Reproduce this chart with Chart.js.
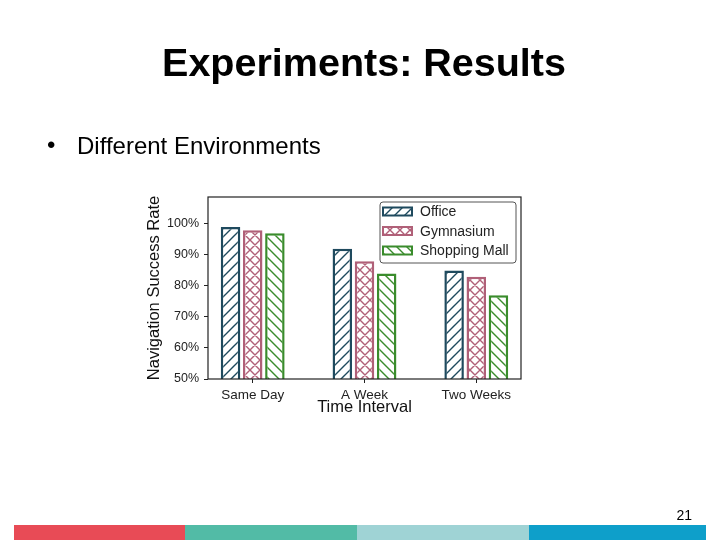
<!DOCTYPE html>
<html>
<head>
<meta charset="utf-8">
<title>Experiments: Results</title>
<script src="https://cdn.jsdelivr.net/npm/chart.js@4.4.0/dist/chart.umd.min.js"></script>
<style>
    html, body { margin: 0; padding: 0; background: #fff; }
    #slide { position: relative; width: 720px; height: 540px; overflow: hidden; font-family: "Liberation Sans", Arial, sans-serif; color: #000; }
    #chart { position: absolute; left: 0; top: 0; }
    .slide-title { position: absolute; left: 8px; top: 43px; width: 712px; text-align: center; font-size: 39.5px; line-height: 39.5px; font-weight: bold; }
    .bullet { position: absolute; left: 47px; top: 133px; font-size: 24px; line-height: 24px; }
    .bullet-text { position: absolute; left: 77px; top: 134px; font-size: 24px; line-height: 24px; white-space: nowrap; }
    .page-num { position: absolute; right: 28px; top: 508px; font-size: 14px; line-height: 14px; }
    .strip { position: absolute; top: 525px; height: 15px; }
</style>
</head>
<body>
<div id="slide">
    <canvas id="chart" width="720" height="540"></canvas>
    <div class="slide-title">Experiments: Results</div>
    <div class="bullet">•</div>
    <div class="bullet-text">Different Environments</div>
    <div class="page-num">21</div>
    <div class="strip" style="left:14px;width:171px;background:#e84b56;"></div>
    <div class="strip" style="left:185px;width:172px;background:#52bba6;"></div>
    <div class="strip" style="left:357px;width:172px;background:#9fd3d5;"></div>
    <div class="strip" style="left:529px;width:177px;background:#0e9fca;"></div>
</div>
<script>
// chart data
const categories = ['Same Day', 'A Week', 'Two Weeks'];
const seriesNames = ['Office', 'Gymnasium', 'Shopping Mall'];
const officeRates = [99, 92, 85];
const gymnasiumRates = [98, 88, 83];
const mallRates = [97, 84, 77];
const yTickValues = [50, 60, 70, 80, 90, 100];

const FONT = '"Liberation Sans", Arial, sans-serif';
const colors = ['#1f4a5e', '#b06078', '#3a8c2c'];
const hatches = ['/', 'x', '\\'];

// small tile with hatch lines, used as bar fill
function makeHatch(color, kind) {
    const n = 10;
    const c = document.createElement('canvas');
    c.width = n; c.height = n;
    const g = c.getContext('2d');
    g.fillStyle = '#fff';
    g.fillRect(0, 0, n, n);
    g.strokeStyle = color;
    g.lineWidth = 1.4;
    g.beginPath();
    if (kind === '/' || kind === 'x') {
        g.moveTo(-2, n + 2); g.lineTo(n + 2, -2);
        g.moveTo(-2, 2); g.lineTo(2, -2);
        g.moveTo(n - 2, n + 2); g.lineTo(n + 2, n - 2);
    }
    if (kind === '\\' || kind === 'x') {
        g.moveTo(-2, -2); g.lineTo(n + 2, n + 2);
        g.moveTo(n - 2, -2); g.lineTo(n + 2, 2);
        g.moveTo(-2, n - 2); g.lineTo(2, n + 2);
    }
    g.stroke();
    return g.createPattern(c, 'repeat');
}

function toPoints(values) {
    return values.map((v, i) => ({ x: i, y: v }));
}

const seriesValues = [officeRates, gymnasiumRates, mallRates];
const datasets = seriesNames.map((name, i) => ({
    label: name,
    data: toPoints(seriesValues[i]),
    backgroundColor: makeHatch(colors[i], hatches[i]),
    borderColor: colors[i],
    borderWidth: 2.5,
    borderSkipped: false
}));

// black frame round the plot area (matplotlib style)
const framePlugin = {
    id: 'frame',
    afterDatasetsDraw(chart) {
        const { ctx, chartArea: a } = chart;
        ctx.save();
        ctx.strokeStyle = '#222';
        ctx.lineWidth = 1.2;
        ctx.strokeRect(a.left, a.top, a.right - a.left, a.bottom - a.top);
        ctx.restore();
    }
};

// legend box in the upper right corner of the plot
const insideLegend = {
    id: 'insideLegend',
    afterDraw(chart) {
        const { ctx, chartArea: a } = chart;
        const w = 136, h = 61;
        const left = a.right - 5 - w, top = a.top + 5;
        ctx.save();
        ctx.beginPath();
        ctx.roundRect(left, top, w, h, 3);
        ctx.fillStyle = '#fff';
        ctx.fill();
        ctx.strokeStyle = '#555';
        ctx.lineWidth = 1;
        ctx.stroke();
        chart.data.datasets.forEach((ds, i) => {
            const cy = top + 9.5 + i * 19.5;
            ctx.fillStyle = ds.backgroundColor;
            ctx.fillRect(left + 3, cy - 4, 29, 8);
            ctx.strokeStyle = ds.borderColor;
            ctx.lineWidth = 2;
            ctx.strokeRect(left + 3, cy - 4, 29, 8);
            ctx.fillStyle = '#222';
            ctx.font = '14px ' + FONT;
            ctx.textBaseline = 'middle';
            ctx.textAlign = 'left';
            ctx.fillText(ds.label, left + 40, cy + 1);
        });
        ctx.restore();
    }
};

const ctx = document.getElementById('chart').getContext('2d');
new Chart(ctx, {
    type: 'bar',
    data: { datasets: datasets },
    options: {
        responsive: false,
        animation: false,
        devicePixelRatio: 1,
        categoryPercentage: 0.595,
        barPercentage: 0.88,
        layout: { padding: { left: 140, right: 199, top: 197, bottom: 123 } },
        plugins: {
            legend: { display: false },
            tooltip: { enabled: false }
        },
        scales: {
            x: {
                type: 'linear',
                min: -0.4,
                max: 2.4,
                offset: false,
                afterBuildTicks: s => { s.ticks = categories.map((c, i) => ({ value: i })); },
                afterFit: s => { s.height = 38; },
                grid: { display: true, offset: false, drawOnChartArea: false, drawTicks: true, tickLength: 4, color: '#222' },
                border: { display: false },
                ticks: {
                    callback: v => categories[v],
                    color: '#222',
                    padding: 4,
                    maxRotation: 0,
                    font: { family: FONT, size: 13.5 }
                },
                title: {
                    display: true,
                    text: 'Time Interval',
                    color: '#111',
                    padding: 0,
                    font: { family: FONT, size: 16.5 }
                }
            },
            y: {
                min: 50,
                max: 108.7,
                afterBuildTicks: s => { s.ticks = yTickValues.map(v => ({ value: v })); },
                afterFit: s => { s.width = 68; },
                grid: { display: true, drawOnChartArea: false, drawTicks: true, tickLength: 4, color: '#222' },
                border: { display: false },
                ticks: {
                    callback: v => v + '%',
                    color: '#222',
                    padding: 5,
                    font: { family: FONT, size: 12.5 }
                },
                title: {
                    display: true,
                    text: 'Navigation Success Rate',
                    color: '#111',
                    padding: { top: 5, bottom: 0 },
                    font: { family: FONT, size: 16.5 }
                }
            }
        }
    },
    plugins: [framePlugin, insideLegend]
});
</script>
</body>
</html>
